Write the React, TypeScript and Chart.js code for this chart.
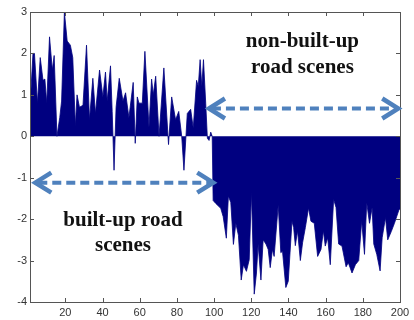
import React, { useEffect, useRef } from "react";
import { Chart, registerables } from "chart.js";
Chart.register(...registerables);

// Sample positions (x) and signal values (y)
const xValues = [
  1, 2.6, 3.4, 5, 6.5, 8, 9, 10, 11.5, 13, 14, 15.5, 17, 18, 19.5, 21, 22.7, 24, 25.4, 26.3,
  27.6, 29.5, 31.4, 33, 34.8, 36.2, 38.4, 40.2, 41.6, 42.5, 44.3, 45.2, 46.2, 47.3, 49, 51,
  52.4, 54.2, 56.5, 57.6, 58.7, 59.6, 61.4, 62.8, 65, 66.4, 67.3, 68.6, 70.4, 73, 75.5, 77.2,
  79.3, 81, 82.6, 83.8, 85.6, 87.4, 88.8, 90.6, 91.5, 92.5, 93.4, 94.3, 95.5, 96.4, 97.3, 98.2,
  99, 99.5, 100.9, 103.6, 104.9, 106.6, 107.7, 109, 110.4, 111.7, 113.1, 114.6, 115.8, 117.4,
  118.9, 120.1, 121.6, 122.8, 123.7, 125.2, 126.4, 127.9, 129.1, 130.2, 131.4, 132.3, 134.5,
  135.9, 136.8, 138.6, 139.9, 141.9, 142.8, 143.7, 144.9, 146.4, 147.6, 149.1, 150.8, 152.1,
  153.9, 155.7, 157.5, 158.8, 159.8, 161.1, 162.5, 164.3, 165.6, 167, 168.8, 171, 172.2, 174.2,
  176, 177.8, 179.4, 180.9, 182.1, 183.6, 185, 185.9, 187.5, 189.3, 190.4, 192.2, 193.4, 195.3,
  197, 199.4, 200,
];
const yValues = [
  0.7, 2.0, 2.0, 0.8, 1.9, 1.35, 1.38, 0.8, 2.4, 1.6, 1.95, 0.0, 0.45, 0.85, 3.0, 2.3, 2.2, 1.9, 0.25, 1.0,
  0.7, 0.75, 2.2, 0.4, 1.4, 0.55, 1.6, 0.95, 1.55, 0.85, 1.7, 0.6, -0.82, 0.7, 1.4, 0.85,
  1.05, 0.45, 1.3, -0.17, 0.95, 0.8, 0.8, 2.05, 0.22, 1.38, 1.0, 1.45, 0.0, 1.65, -0.2, 0.95,
  0.4, 0.6, 0.0, -0.82, 0.55, 0.65, 0.2, 1.35, 1.2, 1.85, 1.2, 1.85, 0.8, -0.05, -0.1, 0.1,
  0.0, -1.55, -1.62, -1.74, -1.94, -2.46, -1.44, -1.6, -2.61, -2.1, -2.39, -3.47, -3.1, -3.26,
  -2.98, -1.35, -3.81, -3.3, -2.6, -3.47, -2.5, -2.6, -2.73, -3.17, -2.73, -2.9, -1.66,
  -2.81, -2.77, -3.65, -3.5, -2.05, -2.2, -2.64, -2.28, -3.0, -2.57, -2.2, -1.73, -2.05,
  -2.1, -2.9, -2.73, -2.28, -2.65, -2.45, -3.1, -1.52, -1.72, -2.6, -2.65, -3.15, -3.05, -3.3,
  -3.1, -3.0, -2.04, -2.85, -1.6, -2.1, -1.72, -2.6, -2.85, -3.25, -2.45, -1.96, -2.5, -2.3,
  -2.1, -1.78, -1.75,
];
const xTickValues = [20, 40, 60, 80, 100, 120, 140, 160, 180, 200];
const yTickValues = [-4, -3, -2, -1, 0, 1, 2, 3];

const topLabelLines = ["non-built-up", "road scenes"];
const bottomLabelLines = ["built-up road", "scenes"];

// Annotation placement (in data units)
const annotationLayout = {
  arrowBuilt: { x1: 3.3, x2: 100.1, y: -1.12 },
  arrowNonBuilt: { x1: 96.7, x2: 199.6, y: 0.67 },
  topText: { x: 147.5, y: [2.145, 1.53] },
  bottomText: { x: 51, y: [-2.17, -2.77] },
};

const FRAME = "#555555";
const ARROW = "#4F81BD";

function drawArrow(ctx: CanvasRenderingContext2D, xa: number, xb: number, yy: number) {
  ctx.save();
  ctx.strokeStyle = ARROW;
  ctx.lineWidth = 4;
  ctx.setLineDash([9, 5]);
  ctx.beginPath();
  ctx.moveTo(xa + 4, yy);
  ctx.lineTo(xb - 4, yy);
  ctx.stroke();
  ctx.setLineDash([]);
  ctx.lineWidth = 4.5;
  ctx.lineJoin = "miter";
  ctx.beginPath();
  ctx.moveTo(xa + 17, yy - 10);
  ctx.lineTo(xa + 1, yy);
  ctx.lineTo(xa + 17, yy + 10);
  ctx.stroke();
  ctx.beginPath();
  ctx.moveTo(xb - 17, yy - 10);
  ctx.lineTo(xb - 1, yy);
  ctx.lineTo(xb - 17, yy + 10);
  ctx.stroke();
  ctx.restore();
}

const framePlugin = {
  id: "matlabFrame",
  afterDatasetsDraw(chart: any) {
    const { ctx, chartArea: a, scales } = chart;
    const xs = scales.x;
    const ys = scales.y;
    ctx.save();
    ctx.strokeStyle = FRAME;
    ctx.lineWidth = 1;
    ctx.strokeRect(Math.round(a.left) + 0.5, Math.round(a.top) + 0.5, Math.round(a.right - a.left), Math.round(a.bottom - a.top));
    ctx.beginPath();
    const tl = 4;
    xTickValues.forEach((v) => {
      const px = Math.round(xs.getPixelForValue(v)) + 0.5;
      ctx.moveTo(px, a.bottom);
      ctx.lineTo(px, a.bottom - tl);
      ctx.moveTo(px, a.top);
      ctx.lineTo(px, a.top + tl);
    });
    yTickValues.forEach((v) => {
      const py = Math.round(ys.getPixelForValue(v)) + 0.5;
      ctx.moveTo(a.left, py);
      ctx.lineTo(a.left + tl, py);
      ctx.moveTo(a.right, py);
      ctx.lineTo(a.right - tl, py);
    });
    ctx.stroke();
    ctx.restore();

    const L = annotationLayout;
    drawArrow(ctx, xs.getPixelForValue(L.arrowBuilt.x1), xs.getPixelForValue(L.arrowBuilt.x2), ys.getPixelForValue(L.arrowBuilt.y));
    drawArrow(ctx, xs.getPixelForValue(L.arrowNonBuilt.x1), xs.getPixelForValue(L.arrowNonBuilt.x2), ys.getPixelForValue(L.arrowNonBuilt.y));

    ctx.save();
    ctx.fillStyle = "#111111";
    ctx.font = 'bold 21px "Liberation Serif", "Times New Roman", serif';
    ctx.textAlign = "center";
    ctx.textBaseline = "alphabetic";
    topLabelLines.forEach((t, i) => {
      ctx.fillText(t, xs.getPixelForValue(L.topText.x), ys.getPixelForValue(L.topText.y[i]));
    });
    bottomLabelLines.forEach((t, i) => {
      ctx.fillText(t, xs.getPixelForValue(L.bottomText.x), ys.getPixelForValue(L.bottomText.y[i]));
    });
    ctx.restore();
  },
};

export default function App() {
  const ref = useRef<HTMLCanvasElement | null>(null);
  useEffect(() => {
    if (!ref.current) return;
    const points = xValues.map((x, i) => ({ x, y: yValues[i] }));
    const chart = new Chart(ref.current, {
      type: "line",
      data: {
        datasets: [
          {
            data: points,
            fill: "origin",
            backgroundColor: "#000080",
            borderColor: "#000080",
            borderWidth: 0.8,
            pointRadius: 0,
            tension: 0,
          },
        ],
      },
      options: {
        animation: false,
        responsive: false,
        events: [],
        layout: { padding: { top: 12, right: 14, left: 0, bottom: 0 } },
        plugins: { legend: { display: false }, tooltip: { enabled: false } },
        scales: {
          x: {
            type: "linear",
            min: 1,
            max: 200,
            grid: { display: false, drawTicks: false },
            border: { display: false },
            afterBuildTicks: (s: any) => {
              s.ticks = xTickValues.map((v) => ({ value: v }));
            },
            afterFit: (s: any) => {
              s.height = 18;
            },
            ticks: {
              padding: 4,
              maxRotation: 0,
              autoSkip: false,
              color: "#333333",
              font: { family: '"Liberation Sans", Arial, sans-serif', size: 11 },
            },
          },
          y: {
            min: -4,
            max: 3,
            grid: { display: false, drawTicks: false },
            border: { display: false },
            afterBuildTicks: (s: any) => {
              s.ticks = yTickValues.map((v) => ({ value: v }));
            },
            afterFit: (s: any) => {
              s.width = 30;
            },
            ticks: {
              padding: 3,
              color: "#333333",
              font: { family: '"Liberation Sans", Arial, sans-serif', size: 11 },
            },
          },
        },
      },
      plugins: [framePlugin],
    });
    return () => chart.destroy();
  }, []);
  return (
    <div style={{ position: "fixed", left: 0, top: 0, width: 414, height: 320, background: "#fff" }}>
      <canvas ref={ref} width={414} height={320} style={{ display: "block" }} />
    </div>
  );
}
